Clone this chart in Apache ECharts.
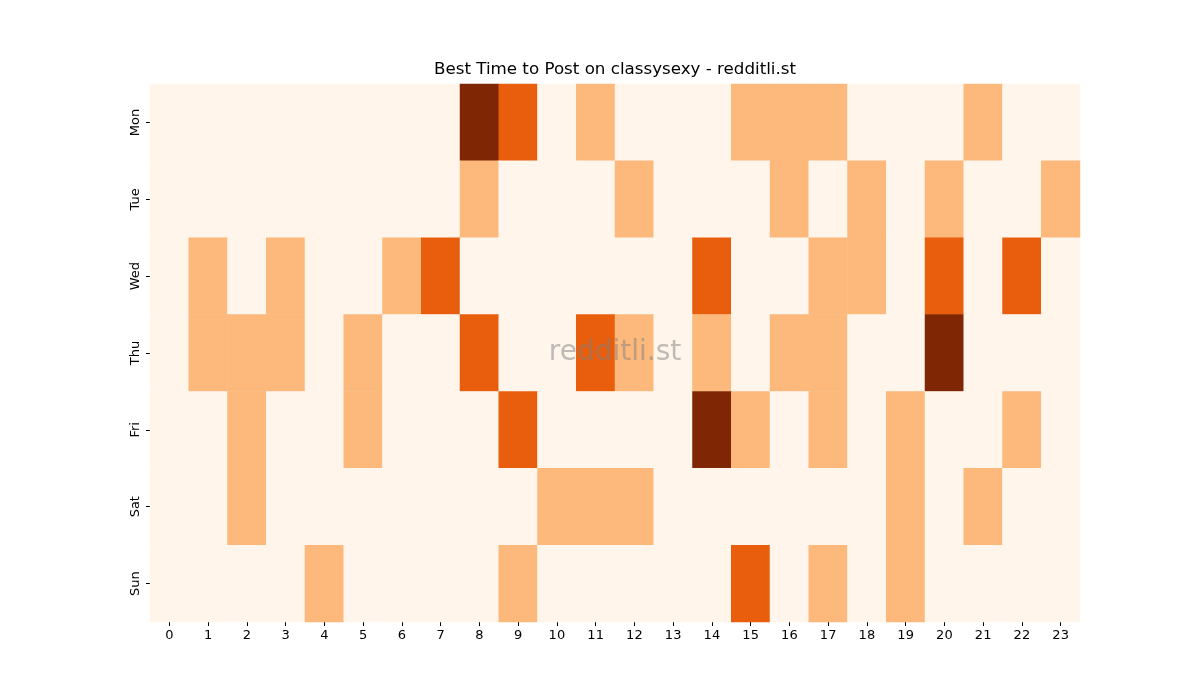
<!DOCTYPE html>
<html>
<head>
<meta charset="utf-8">
<script src="https://cdn.jsdelivr.net/npm/echarts@6/dist/echarts.min.js"></script>
<style>
  html, body { margin: 0; padding: 0; background: #fff; }
  #chart { width: 1200px; height: 700px; }
</style>
</head>
<body>
<div id="chart"></div>
<script>
// hours along the bottom, days down the side
var hours = ['0','1','2','3','4','5','6','7','8','9','10','11','12','13','14','15','16','17','18','19','20','21','22','23'];
var days = ['Mon', 'Tue', 'Wed', 'Thu', 'Fri', 'Sat', 'Sun'];

// activity level per hour (0..3), one row per day
var mon = [0,0,0,0,0,0,0,0,3,2,0,1,0,0,0,1,1,1,0,0,0,1,0,0];
var tue = [0,0,0,0,0,0,0,0,1,0,0,0,1,0,0,0,1,0,1,0,1,0,0,1];
var wed = [0,1,0,1,0,0,1,2,0,0,0,0,0,0,2,0,0,1,1,0,2,0,2,0];
var thu = [0,1,1,1,0,1,0,0,2,0,0,2,1,0,1,0,1,1,0,0,3,0,0,0];
var fri = [0,0,1,0,0,1,0,0,0,2,0,0,0,0,3,1,0,1,0,1,0,0,1,0];
var sat = [0,0,1,0,0,0,0,0,0,0,1,1,1,0,0,0,0,0,0,1,0,1,0,0];
var sun = [0,0,0,0,1,0,0,0,0,1,0,0,0,0,0,2,0,1,0,1,0,0,0,0];

var rows = [mon, tue, wed, thu, fri, sat, sun];
var cells = [];
rows.forEach(function (row, d) {
    row.forEach(function (v, h) {
        cells.push([h, d, v]);
    });
});

var chart = echarts.init(document.getElementById('chart'));
var font = 'DejaVu Sans';

chart.setOption({
    animation: false,
    textStyle: { fontFamily: font },
    grid: { left: 150, right: 120, top: 84, bottom: 78 },
    xAxis: {
        type: 'category',
        data: hours,
        axisLine: { show: false },
        axisTick: { show: true, alignWithLabel: true, length: 4, lineStyle: { color: '#000' } },
        axisLabel: { color: '#000', fontSize: 13, margin: 7, interval: 0 },
        splitArea: { show: false }
    },
    yAxis: {
        type: 'category',
        data: days,
        inverse: true,
        axisLine: { show: false },
        axisTick: { show: true, alignWithLabel: true, length: 4, lineStyle: { color: '#000' } },
        axisLabel: { color: '#000', fontSize: 13, rotate: 90, margin: 8 }
    },
    visualMap: {
        show: false,
        type: 'piecewise',
        dimension: 2,
        pieces: [
            { value: 0, color: '#fff5eb' },
            { value: 1, color: '#fdb87c' },
            { value: 2, color: '#e95e0d' },
            { value: 3, color: '#7f2704' }
        ]
    },
    series: [{
        type: 'heatmap',
        data: cells,
        itemStyle: { borderWidth: 0 },
        emphasis: { disabled: true }
    }],
    graphic: [{
        // title drawn as plain text so it centres exactly over the plot
        type: 'text',
        x: 615,
        y: 70,
        style: {
            text: 'Best Time to Post on classysexy - redditli.st',
            fontFamily: font,
            fontSize: 16.7,
            align: 'center',
            verticalAlign: 'middle',
            fill: '#000'
        }
    }, {
        type: 'text',
        x: 615,
        y: 353,
        z: 100,
        style: {
            text: 'redditli.st',
            fontFamily: font,
            fontSize: 28,
            align: 'center',
            verticalAlign: 'middle',
            fill: 'rgba(128,128,128,0.5)'
        }
    }]
});
</script>
</body>
</html>
